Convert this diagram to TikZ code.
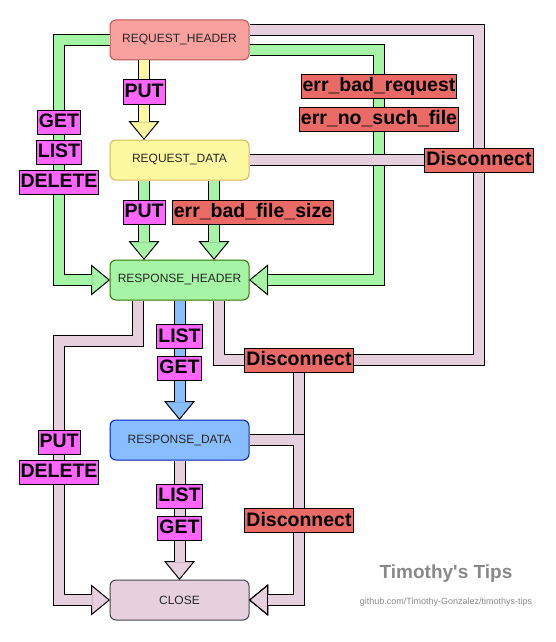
\documentclass[tikz,border=0pt]{standalone}
\usepackage{fontspec}
\setmainfont{Liberation Sans}
\usepackage{xcolor}
\usepackage{tikz}
\usetikzlibrary{arrows.meta,positioning}

\definecolor{rqhfill}{HTML}{F8A19E}
\definecolor{rqhline}{HTML}{B85450}
\definecolor{rqdfill}{HTML}{FCF9A0}
\definecolor{rqdline}{HTML}{D6B656}
\definecolor{rshfill}{HTML}{A6F5A6}
\definecolor{rshline}{HTML}{2D7600}
\definecolor{rsdfill}{HTML}{88BEFF}
\definecolor{rsdline}{HTML}{001DBC}
\definecolor{clsfill}{HTML}{E6D0DE}
\definecolor{clsline}{HTML}{444444}
\definecolor{cmdpink}{HTML}{FF66FF}
\definecolor{errred}{HTML}{EA6B66}
\definecolor{tipgray}{HTML}{888888}

\tikzset{
  box/.style={rounded corners=6pt, line width=1pt, outer sep=0pt,
    minimum width=139pt, minimum height=40pt,
    font=\fontsize{12}{14}\selectfont, text=black!85},
  flow/.style={line width=12pt, draw=black, shorten <=0.5pt,
    -{Triangle[length=19pt, width=31pt, line width=1pt, fill=#1]},
    postaction={draw=#1, line width=10pt, -, shorten >=18.5pt}},
  lbl/.style={draw=black, line width=1pt, font=\bfseries\fontsize{19.5}{20}\selectfont,
    inner xsep=1.5pt, inner ysep=1pt, text height=16.5pt, text depth=5.5pt},
  cmd/.style={lbl, fill=cmdpink},
  err/.style={lbl, fill=errred},
}

\begin{document}
\begin{tikzpicture}[x=1pt, y=-1pt]
\useasboundingbox (0,0) rectangle (555,642);

% states
\node[box, fill=rqhfill, draw=rqhline] (rqh) at (179.5,40) {REQUEST\_HEADER};
\node[box, fill=rqdfill, draw=rqdline, below=80pt of rqh] (rqd) {REQUEST\_DATA};
\node[box, fill=rshfill, draw=rshline, below=80pt of rqd] (rsh) {RESPONSE\_HEADER};
\node[box, fill=rsdfill, draw=rsdline, below=120pt of rsh] (rsd) {RESPONSE\_DATA};
\node[box, fill=clsfill, draw=clsline, below=120pt of rsd] (cls) {CLOSE};

% normal flow
\draw[flow=rqdfill] ([xshift=-35.5pt]rqh.south) -- ([xshift=-35.5pt]rqd.north)
  node[cmd, pos=0.4] {PUT};
\draw[flow=rshfill] ([xshift=-35.5pt]rqd.south) -- ([xshift=-35.5pt]rsh.north)
  node[cmd, pos=0.4] {PUT};
\draw[flow=rshfill] ([xshift=34.5pt]rqd.south) -- ([xshift=34.5pt]rsh.north)
  node[err, pos=0.4, xshift=39pt] {err\_bad\_file\_size};
\draw[flow=rshfill] (rqh.west) -- ++(-51,0) -- ++(0,240)
  node[cmd, pos=0.342] {GET}
  node[cmd, pos=0.467] {LIST}
  node[cmd, pos=0.592] {DELETE} -- (rsh.west);
\draw[flow=rshfill] ([yshift=-10pt]rqh.east) -- ++(130,0) -- ++(0,230)
  node[err, pos=0.157] {err\_bad\_request}
  node[err, pos=0.3] {err\_no\_such\_file} -- (rsh.east);
\draw[flow=rsdfill] (rsh) -- (rsd)
  node[cmd, pos=0.308] {LIST}
  node[cmd, pos=0.567] {GET};
\draw[flow=clsfill] (rsd) -- (cls)
  node[cmd, pos=0.3] {LIST}
  node[cmd, pos=0.567] {GET};
\draw[flow=clsfill] ([xshift=-41.5pt]rsh.south) -- ++(0,41) -- ++(-79,0) -- ++(0,259)
  node[cmd, pos=0.39] {PUT}
  node[cmd, pos=0.506] {DELETE} -- (cls.west);

% disconnects
\draw[flow=clsfill] ([yshift=10pt]rqh.east) -- ++(230,0) -- ++(0,330) -- ++(-180,0)
  -- ++(0,240) -- (cls.east);
\draw[flow=clsfill] (rqd.east) -- ++(230,0) node[err, pos=1] {Disconnect}
  -- ++(0,200) -- ++(-180,0) -- ++(0,240) -- (cls.east);
\draw[flow=clsfill] ([xshift=39.5pt]rsh.south) -- ++(0,60) -- ++(80,0)
  node[err, pos=1] {Disconnect} -- ++(0,240) -- (cls.east);
\draw[flow=clsfill] (rsd.east) -- ++(50,0) -- ++(0,160)
  node[err, pos=0.506] {Disconnect} -- (cls.east);

\node[font=\bfseries\fontsize{19}{20}\selectfont, text=tipgray] (tips) at (446,574) {Timothy\textquotesingle s Tips};
\node[font=\fontsize{9}{10}\selectfont, text=tipgray] (url) at (446,602) {github.com/Timothy-Gonzalez/timothys-tips};
\end{tikzpicture}
\end{document}
